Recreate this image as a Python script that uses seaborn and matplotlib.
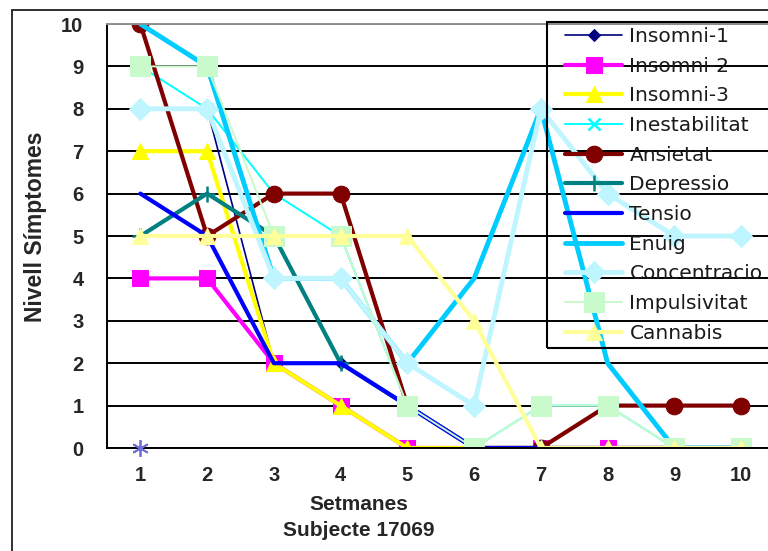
import numpy as np
import pandas as pd
import matplotlib
matplotlib.use("Agg")
import matplotlib.pyplot as plt
from matplotlib.patches import Rectangle
import seaborn as sns

# Weekly symptom levels, subject 17069
setmanes = [1, 2, 3, 4, 5, 6, 7, 8, 9, 10]
insomni_1 = [np.nan, 8, 2, 2, 1, 0, 0, 0, 0, 0]
insomni_2 = [4, 4, 2, 1, 0, 0, 0, 0, 0, 0]
insomni_3 = [7, 7, 2, 1, 0, 0, 0, 0, 0, 0]
inestabilitat = [9, 8, 6, 5, 1, 0, 1, 1, 0, 0]
ansietat = [10, 5, 6, 6, 1, 0, 0, 1, 1, 1]
depressio = [5, 6, 5, 2, 1, 0, 0, 0, 0, 0]
tensio = [6, 5, 2, 2, 1, 0, 0, 0, 0, 0]
enuig = [10, 9, 4, 4, 2, 4, 8, 2, 0, 0]
concentracio = [8, 8, 4, 4, 2, 1, 8, 6, 5, 5]
impulsivitat = [9, 9, 5, 5, 1, 0, 1, 1, 0, 0]
cannabis = [5, 5, 5, 5, 5, 3, 0, 0, 0, 0]

# Lone week-1 reading shown as an asterisk
punt_setmana = [1]
punt_valor = [0]

y_ticks = [0, 1, 2, 3, 4, 5, 6, 7, 8, 9, 10]

series = [
    # name, values, colour, linewidth, marker, markersize
    ("Insomni-1", insomni_1, "#000080", 1.2, "D", 6),
    ("Insomni-2", insomni_2, "#FF00FF", 3.0, "s", 11),
    ("Insomni-3", insomni_3, "#FFFF00", 3.0, "^", 11),
    ("Inestabilitat", inestabilitat, "#00FFFF", 1.4, "x", 8),
    ("Ansietat", ansietat, "#800000", 3.0, "o", 12),
    ("Depressio", depressio, "#008080", 3.0, "+", 11),
    ("Tensio", tensio, "#0000FF", 3.0, None, 0),
    ("Enuig", enuig, "#00CCFF", 3.5, None, 0),
    ("Concentracio", concentracio, "#BFF5FF", 3.5, "D", 11),
    ("Impulsivitat", impulsivitat, "#C8FACC", 1.4, "s", 14),
    ("Cannabis", cannabis, "#FFFF99", 3.0, "^", 11),
]

sns.set_style("white")
plt.rcParams["font.family"] = ["Liberation Sans", "DejaVu Sans"]

fig = plt.figure(figsize=(7.68, 5.51), dpi=100)
ax = fig.add_axes([107 / 768, 1 - 448 / 551, 667.5 / 768, 424 / 551])

for name, vals, col, lw, mk, ms in series:
    df = pd.DataFrame({"Setmana": setmanes, "Nivell": vals})
    kw = dict(marker=mk, markersize=ms, markeredgecolor=col, markerfacecolor=col) if mk else {}
    if mk in ("x", "+"):
        kw["markeredgewidth"] = 1.8
    sns.lineplot(data=df, x="Setmana", y="Nivell", ax=ax, color=col, linewidth=lw,
                 label=name, errorbar=None, **kw)

ax.plot(punt_setmana, punt_valor, linestyle="none", marker=(6, 2, 0), markersize=12,
        markeredgewidth=1.3, color="#7070d8", zorder=5, clip_on=False)

ax.set_xlim(0.5, 10.5)
ax.set_ylim(0, 10)
ax.set_xticks(setmanes)
ax.set_yticks(y_ticks)
ax.set_xticklabels([str(s) for s in setmanes], fontsize=14.5, fontweight="bold")
ax.set_yticklabels([str(v) for v in y_ticks], fontsize=14.5, fontweight="bold")
ax.tick_params(axis="y", length=0, pad=17)
ax.tick_params(axis="x", length=0, pad=13)
ax.set_xlabel("")
ax.set_ylabel("")
ax.yaxis.grid(True, color="black", linewidth=1.4)
ax.set_axisbelow(True)
for sp in ax.spines.values():
    sp.set_color("black")
    sp.set_linewidth(1.4)
ax.spines["top"].set_color("#909090")

# Legend entries without their own frame; the box is drawn separately
leg = ax.legend(loc="upper left", bbox_to_anchor=((565 - 107) / 667.5, 1 - 3 / 424),
                borderaxespad=0, borderpad=0,
                prop={"family": "DejaVu Sans", "size": 14.5}, frameon=False,
                handlelength=2.85, handletextpad=0.35, labelspacing=0.53)
for t in leg.get_texts():
    t.set_color("#1a1a1a")
ax.add_patch(Rectangle((547 / 768, 1 - 348 / 551), 0.5, (348 - 22) / 551,
                       transform=fig.transFigure, fill=False, edgecolor="black",
                       linewidth=1.5, zorder=10, clip_on=False))

fig.text(359 / 768, 1 - 505 / 551, "Setmanes", ha="center", va="center",
         fontsize=15, fontweight="bold")
fig.text(359 / 768, 1 - 530 / 551, "Subjecte 17069", ha="center", va="center",
         fontsize=15, fontweight="bold")
fig.text(36 / 768, 1 - 227 / 551, "Nivell Símptomes", ha="center", va="center",
         rotation=90, fontsize=16.5, fontweight="bold")

fig.patches.append(Rectangle((12 / 768, -0.1), 1.2, 1.1 - 10 / 551,
                             transform=fig.transFigure, fill=False,
                             edgecolor="#202020", linewidth=1.3))

fig.savefig("out.png", dpi=100)
